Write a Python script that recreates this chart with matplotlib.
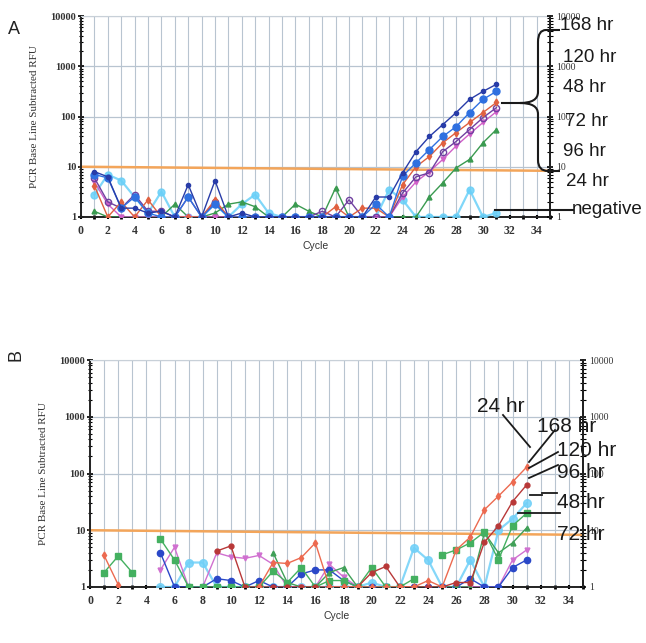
import numpy as np
import matplotlib
matplotlib.use("Agg")
import matplotlib.pyplot as plt
from matplotlib.path import Path
from matplotlib.patches import PathPatch
from matplotlib.lines import Line2D
from matplotlib.transforms import Affine2D

N = np.nan
cycles = list(range(1, 32))

# ---------------- Panel A data ----------------
A_168 = [8, 6.3, 1.5, 1.5, 1.2, 1.3, 1, 4.4, 1, 5.3, 1, 1.2, 1, 1, 1, 1, 1, 1, 1, 1, 1, 2.5, 2.5, 7.6, 20, 40, 69, 120, 219, 316, 437]
A_120 = [7, 6, 1.5, 2.5, 1.2, 1, 1, 2.5, 1, 1.8, 1, 1, 1, 1, 1, 1, 1, 1, 1, 1, 1, 1.8, 1, 6.5, 12, 22, 40, 63, 120, 219, 316]
A_48 = [4.2, 1, 2, 1, 2.2, 1, 1, 1, 1, 2.2, 1, 1, 1, 1, 1, 1, 1, 1, 1.6, 1, 1.5, 1.5, 1, 4.4, 10, 16, 30, 48, 76, 120, 190]
A_72 = [6, 2, 1.5, 2.8, 1.3, 1.3, 1, 2.5, 1, 2, 1, 1, 1, 1, 1, 1, 1, 1.3, 1, 2.2, 1, 1, 1, 3, 6.3, 7.6, 20, 32, 55, 95, 150]
A_96 = [5, 1.8, 1, 1, 1, 1, 1, 1, 1, 1, 1, 1, 1, 1, 1, 1, 1, 1, 1, 1, 1, 1, 1, 2.5, 5, 8, 14, 26, 45, 76, 125]
A_24 = [1.3, 1, 1, 1, 1, 1, 1.8, 1, 1, 1.2, 1.8, 2, 1.6, 1, 1, 1.8, 1.3, 1, 3.8, 1, 1, 1, 1, 1, 1, 2.5, 4.8, 9.5, 14, 30, 55]
A_neg = [2.8, 7, 5.3, 2.5, 1.2, 3.2, 1, 1, 1, 1.8, 1, 1.8, 2.8, 1.2, 1, 1, 1, 1, 1, 1, 1, 1, 3.5, 2.2, 1, 1, 1, 1, 3.5, 1, 1.2]

# ---------------- Panel B data ----------------
B_24 = [3.6, 1.1, N, N, N, N, N, N, N, N, N, 1, 2.7, 2.6, 3.3, 6, 1, 1, 1, 1, 1, 1, 1, 1.3, 1, 4.5, 7.6, 23, 40, 71, 130]
B_168 = [N, N, N, N, N, N, N, N, 4.3, 5.3, 1, 1, 1, 1, 1, 1, 1, 1, 1, 1.8, 2.3, 1, 1, 1, 1, 1.2, 1.2, 6.2, 12, 32, 63]
B_120 = [N, N, N, N, 1, 1, 2.7, 2.7, 1, 1, 1, 1, 1, 1, 1, 1, 1, 1, 1, 1.2, 1, 1, 4.9, 3, 1, 1, 3, 1, 10, 16, 30]
B_96 = [1.8, 3.5, 1.8, N, 7, 3, 1, 1, 1, 1, 1, 1, 1.9, 1.2, 2.2, 1, 1.3, 1.3, 1, 2.2, 1, 1, 1.4, N, 3.7, 4.5, 6, 9.3, 3, 12, 20]
B_48 = [N, N, N, N, N, N, N, N, N, N, N, N, 4, 1.2, 1, 1, 1.8, 2.2, 1, 1, 1, 1, 1, 1, 1, 1, 1, 9, 4, 6, 11]
B_72 = [N, N, N, N, 4, 1, 1, 1, 1.4, 1.3, 1, 1.3, 1, 1, 1.7, 2, 2, 1.3, 1, 1, 1, 1, 1, 1, 1, 1, 1.4, 1, 1, 2.2, 3]
B_neg = [N, N, N, N, 2, 5, 1, 1, 4, 3.4, 3.2, 3.6, 2.5, 1, 1, 1, 2.5, 1.5, 1, 1, 1, 1, 1, 1, 1, 1, 1, 1, 1, 3, 4.5]

threshold_left = 10.0
threshold_right = 8.3
x_ticks = list(range(0, 36, 2))
y_ticks = [1, 10, 100, 1000, 10000]
y_ticklabels = ["1", "10", "100", "1000", "10000"]

labels_A = ["168 hr", "120 hr", "48 hr", "72 hr", "96 hr", "24 hr", "negative"]
labels_B = ["24 hr", "168 hr", "120 hr", "96 hr", "48 hr", "72 hr"]

W, H = 646, 643
fig = plt.figure(figsize=(W / 100, H / 100), dpi=100)
fig.patch.set_facecolor("white")
# pixel transform (origin top-left)
px = Affine2D().scale(1 / W, -1 / H).translate(0, 1) + fig.transFigure

serif = "Liberation Serif"
sans = "Liberation Sans"


def setup_axes(ax):
    ax.set_yscale("log")
    ax.set_xlim(0, 35)
    ax.set_ylim(1, 10000)
    ax.set_xticks(x_ticks)
    ax.set_xticklabels([str(t) for t in x_ticks], fontfamily=serif, fontsize=8.5, fontweight="bold", color="#333333")
    ax.set_xticks(range(0, 36), minor=True)
    ax.set_yticks(y_ticks)
    ax.set_yticklabels(y_ticklabels, fontfamily=serif, fontsize=7.5, fontweight="bold", color="#333333")
    ax.tick_params(axis="x", which="major", length=3, width=1.5, direction="inout", pad=4)
    ax.tick_params(axis="x", which="minor", length=3, width=2, direction="inout")
    ax.tick_params(axis="y", which="major", length=5, width=1.2, direction="inout", pad=1)
    ax.tick_params(axis="y", which="minor", length=3, width=0.8, direction="inout")
    ax.grid(True, which="minor", axis="x", color="#b8c4d0", lw=0.8)
    ax.grid(True, which="major", axis="x", color="#b8c4d0", lw=0.8)
    ax.grid(True, which="major", axis="y", color="#b8c4d0", lw=0.9)
    ax.grid(False, which="minor", axis="y")
    for s in ["left", "bottom", "right"]:
        ax.spines[s].set_color("#222222")
        ax.spines[s].set_linewidth(1.4)
    ax.spines["top"].set_color("#c8d0d8")
    ax.spines["top"].set_linewidth(0.8)
    ax.set_xlabel("Cycle", fontfamily=sans, fontsize=7.5, color="#333333", labelpad=3)
    ax.set_ylabel("PCR Base Line Subtracted RFU", fontfamily=serif, fontsize=8, color="#333333", labelpad=8)
    ax.plot([0, 35], [threshold_left, threshold_right], color="#f3a55a", lw=1.8, zorder=2, clip_on=False)
    ax2 = ax.twinx()
    ax2.set_yscale("log")
    ax2.set_ylim(1, 10000)
    ax2.set_yticks(y_ticks)
    ax2.set_yticklabels(y_ticklabels, fontfamily=serif, fontsize=7, color="#333333")
    ax2.tick_params(axis="y", which="major", length=5, width=1.2, direction="inout", pad=2)
    ax2.tick_params(axis="y", which="minor", length=4, width=0.8, direction="inout")
    ax2.spines["right"].set_color("#222222")
    ax2.spines["right"].set_linewidth(1.4)
    for s in ["left", "bottom", "top"]:
        ax2.spines[s].set_visible(False)
    return ax2


def plot_series(ax, y, color, marker, ms=3.5, mfc=None, alpha=1.0, lw=1.0):
    ax.plot(cycles, y, color=color, marker=marker, ms=ms, lw=lw,
            mfc=mfc if mfc is not None else color, mec=color, alpha=alpha, zorder=3)


# ---------------- Panel A ----------------
axA = fig.add_axes([81 / W, 1 - 217 / H, (550 - 81) / W, (217 - 16) / H])
setup_axes(axA)
plot_series(axA, A_neg, "#6ad0f8", "o", ms=5, alpha=0.85, lw=1.6)
plot_series(axA, A_24, "#3a9a50", "^", ms=3.5)
plot_series(axA, A_96, "#d060c8", "v", ms=3.5)
plot_series(axA, A_72, "#7040a0", "o", ms=4.5, mfc="none")
plot_series(axA, A_48, "#e06040", "d", ms=3.5)
plot_series(axA, A_120, "#2f70e0", "o", ms=5)
plot_series(axA, A_168, "#283ca8", "o", ms=3)

# ---------------- Panel B ----------------
axB = fig.add_axes([90 / W, 1 - 587 / H, (583 - 90) / W, (587 - 360) / H])
setup_axes(axB)
plot_series(axB, B_120, "#70d0f8", "o", ms=5.5, alpha=0.85, lw=1.6)
plot_series(axB, B_neg, "#d070d0", "v", ms=3.5)
plot_series(axB, B_72, "#2a48c8", "o", ms=4.5)
plot_series(axB, B_48, "#40a058", "^", ms=3.5)
plot_series(axB, B_96, "#44b060", "s", ms=5)
plot_series(axB, B_168, "#b83838", "o", ms=3.5)
plot_series(axB, B_24, "#ec6a50", "d", ms=3.5)

# panel letters
fig.text(8 / W, 1 - 30 / H, "A", fontfamily=sans, fontsize=13, va="center", color="#222222")
fig.text(8 / W, 1 - 355 / H, "B", fontfamily=sans, fontsize=13, va="center", color="#222222", rotation=90)

# ---------------- annotations A ----------------
brace = Path(
    [(560, 30), (546, 30), (538, 30), (538, 42), (538, 92), (538, 103), (520, 103),
     (538, 103), (538, 114), (538, 160), (538, 171), (548, 171), (560, 171)],
    [Path.MOVETO, Path.LINETO, Path.CURVE3, Path.CURVE3, Path.LINETO, Path.CURVE3, Path.CURVE3,
     Path.CURVE3, Path.CURVE3, Path.LINETO, Path.CURVE3, Path.CURVE3, Path.LINETO])
fig.add_artist(PathPatch(brace, transform=px, fill=False, lw=1.5, ec="#1a1a1a"))
fig.add_artist(Line2D([502, 522], [103, 103], transform=px, color="#1a1a1a", lw=1.5))
fig.add_artist(Line2D([495, 573], [210, 210], transform=px, color="#1a1a1a", lw=1.5))

posA = [(560, 25), (563, 58), (563, 88), (565, 121), (563, 152), (566, 182), (572, 210)]
for lab, (x, y) in zip(labels_A, posA):
    fig.text(x / W, 1 - y / H, lab, fontfamily=sans, fontsize=13.5, va="center", ha="left", color="#1a1a1a")

# ---------------- annotations B ----------------
lead = [
    ([503, 530], [415, 447]),
    ([555, 529], [430, 462]),
    ([558, 529], [452, 468]),
    ([558, 529], [465, 478]),
    ([530, 542], [495, 495]),
    ([542, 557], [493, 493]),
    ([518, 560], [513, 513]),
]
for xs, ys in lead:
    fig.add_artist(Line2D(xs, ys, transform=px, color="#1a1a1a", lw=1.3))

posB = [(477, 406), (537, 427), (557, 450), (557, 472), (557, 503), (557, 535)]
for lab, (x, y) in zip(labels_B, posB):
    fig.text(x / W, 1 - y / H, lab, fontfamily=sans, fontsize=15, va="center", ha="left", color="#1a1a1a")

fig.savefig("out.png", dpi=100)
